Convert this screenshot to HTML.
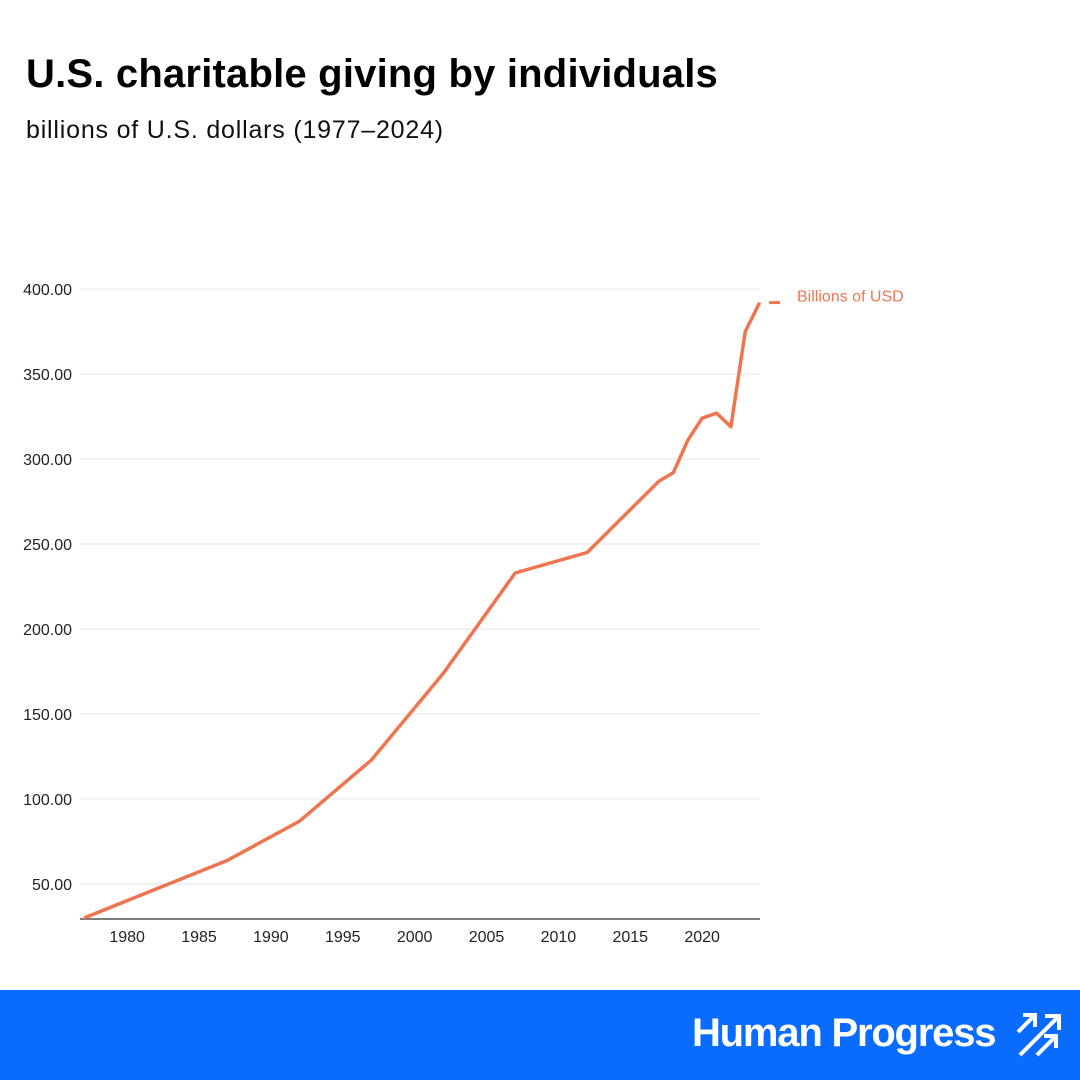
<!DOCTYPE html>
<html><head><meta charset="utf-8"><style>
body{margin:0;width:1080px;height:1080px;background:#fff;position:relative;overflow:hidden;font-family:"Liberation Sans",sans-serif}
#title{position:absolute;left:26px;top:52px;font-size:40px;font-weight:bold;color:#000;letter-spacing:0.2px}
#sub{position:absolute;left:26px;top:116px;font-size:25px;color:#111;letter-spacing:0.8px}
#footer{position:absolute;left:0;top:990px;width:1080px;height:90px;background:#0a6cff}
#brand{position:absolute;left:692px;top:1011px;font-size:40px;font-weight:bold;color:#fff;letter-spacing:-1.2px}
</style></head><body>
<div id="title">U.S. charitable giving by individuals</div>
<div id="sub">billions of U.S. dollars (1977–2024)</div>
<svg id="chart" width="1080" height="990" style="position:absolute;left:0;top:0"></svg>
<div id="footer"></div>
<div id="brand">Human Progress</div>
<svg width="50" height="50" style="position:absolute;left:1015px;top:1010px">
<g stroke="#fff" stroke-width="4" fill="none">
<path d="M3 22 L20 5 M8 5 H20 V17"/><path d="M5 45 L44 6 M30 6 H44 V20"/><path d="M22 45 L41 26 M29 26 H41 V38"/>
</g></svg>
<script>
const years=[1977,1987,1992,1997,2002,2007,2012,2017,2018,2019,2020,2021,2022,2023,2024];
const values=[30,64,87,123,174,233,245,287,292,311,324,327,319,375,392];
const yTicks=[50,100,150,200,250,300,350,400];
const yTickLabels=["50.00","100.00","150.00","200.00","250.00","300.00","350.00","400.00"];
const xTicks=[1980,1985,1990,1995,2000,2005,2010,2015,2020];
const seriesName="Billions of USD";
const NS="http://www.w3.org/2000/svg";
const svg=document.getElementById('chart');
const x=v=>84+(v-1977)*14.375;
const y=v=>289+(400-v)*1.7;
function mk(t,a){const e=document.createElementNS(NS,t);for(const k in a)e.setAttribute(k,a[k]);svg.appendChild(e);return e;}
yTicks.forEach((t,i)=>{
 const g=mk('line',{x1:80,x2:760,y1:y(t),y2:y(t),stroke:'#e6e6e6','stroke-width':1});
 
 
 const l=mk('text',{x:72,y:y(t)+6,'text-anchor':'end','font-size':16,fill:'#222','font-family':'Liberation Sans, sans-serif'});
 l.textContent=yTickLabels[i];
 
 
});
const ax=mk('line',{x1:80,x2:760,y1:919,y2:919,stroke:'#555','stroke-width':1.5});


xTicks.forEach(t=>{
 const l=mk('text',{x:x(t),y:942,'text-anchor':'middle','font-size':16,fill:'#222','font-family':'Liberation Sans, sans-serif'});
 l.textContent=t;
 
 
});
const p=mk('polyline',{points:years.map((yr,i)=>x(yr)+','+y(values[i])).join(' '),fill:'none',stroke:'#ef7550','stroke-width':3.5,'stroke-linejoin':'round'});


const ly=y(values[values.length-1]);
const lm=mk('line',{x1:769,x2:780,y1:ly,y2:ly,stroke:'#ef7550','stroke-width':3});


const lt=mk('text',{x:797,y:ly-1,'font-size':16,fill:'#ef7550','font-family':'Liberation Sans, sans-serif'});
lt.textContent=seriesName;


</script>
</body></html>
